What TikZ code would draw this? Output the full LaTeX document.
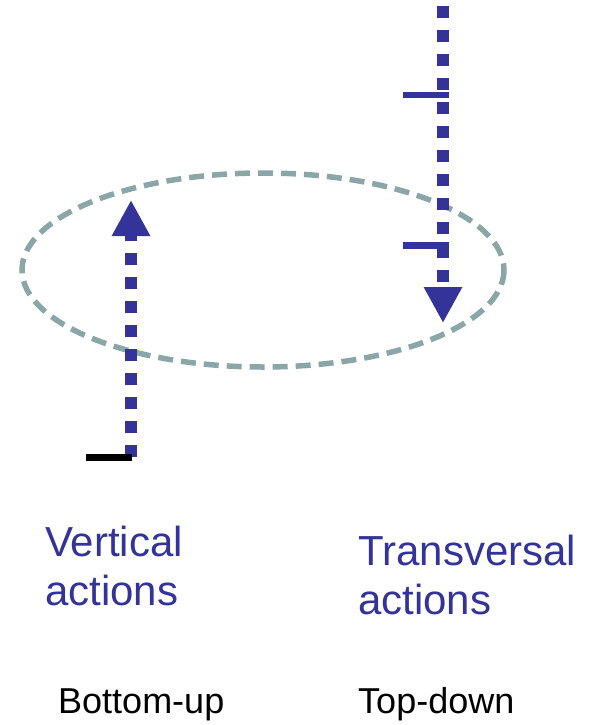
\documentclass[tikz,border=0pt]{standalone}
\usepackage{fontspec}
\setmainfont{Liberation Sans}
\usetikzlibrary{arrows.meta}
\definecolor{navy}{RGB}{51,51,153}
\definecolor{ringgray}{RGB}{138,166,166}
\begin{document}
\begin{tikzpicture}[x=1pt,y=-1pt,
  flow/.style={draw=navy,line width=12pt,dash pattern=on 12pt off 12pt,
    -{Triangle[width=36pt,length=36pt]},fill=none},
  tickmark/.style={line width=6.5pt},
  ring/.style={draw=ringgray,line width=5.5pt,dash pattern=on 15pt off 8pt},
  biglabel/.style={text=navy,font=\fontsize{42}{49}\selectfont,align=left,inner sep=0pt,anchor=base west},
  smalllabel/.style={text=black,font=\fontsize{36}{42}\selectfont,inner sep=0pt,anchor=base west}]
\useasboundingbox (0,0) rectangle (592,725);
% ellipse
\draw[ring] (263,270) ellipse [x radius=241, y radius=97];
% coordinates
\coordinate (rtop) at (443,6);
\coordinate (rend) at (443,323);
\coordinate (lbot) at (131,457);
\coordinate (lend) at (131,200);
\coordinate (t1a) at (403,95);
\coordinate (t1b) at (449,95);
\coordinate (t2a) at (403,245.5);
\coordinate (t2b) at (449,245.5);
\coordinate (t3a) at (86,457.5);
\coordinate (t3b) at (132,457.5);
% arrows
\draw[flow] (rtop) -- (rend);
\draw[flow] (lbot) -- (lend);
% ticks
\draw[tickmark,navy] (t1a) -- (t1b);
\draw[tickmark,navy] (t2a) -- (t2b);
\draw[tickmark,black] (t3a) -- (t3b);
% labels (base anchor = baseline of the last line)
\node[biglabel] (vert) at (45,605) {Vertical\\actions};
\node[biglabel] (trans) at (358,614) {Transversal\\actions};
\node[smalllabel] (bu) at (58,713) {Bottom-up};
\node[smalllabel] (td) at (358,713) {Top-down};
\end{tikzpicture}
\end{document}
